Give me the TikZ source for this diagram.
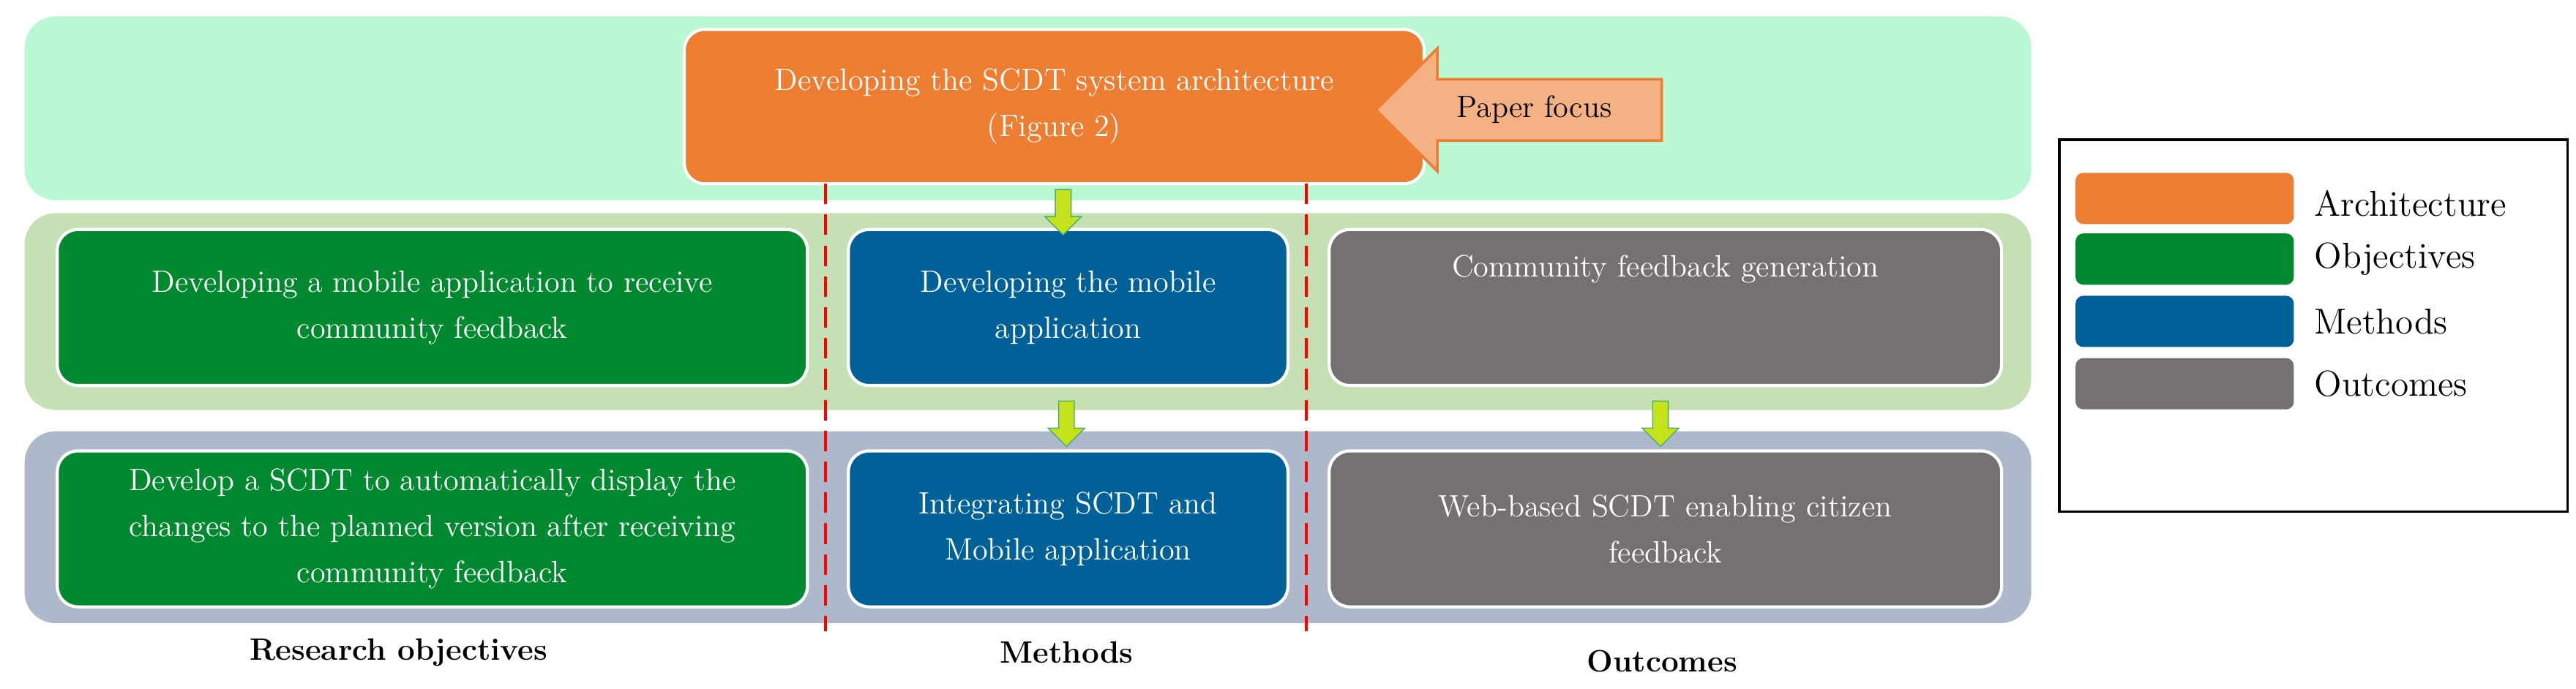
\documentclass[tikz,border=0pt]{standalone}
\usetikzlibrary{shapes.arrows}
\definecolor{bandtop}{HTML}{B9F8D3}
\definecolor{bandmid}{HTML}{C5E0B4}
\definecolor{bandbot}{HTML}{ADB9CA}
\definecolor{archi}{HTML}{ED7D31}
\definecolor{objgreen}{HTML}{00892F}
\definecolor{methblue}{HTML}{006199}
\definecolor{outgray}{HTML}{767171}
\definecolor{focus}{HTML}{F4B183}
\definecolor{lime}{HTML}{C5E31A}
\tikzstyle{every picture} = [x=0.0224cm, y=-0.0224cm, font=\fontsize{12}{18}\selectfont]
\tikzstyle{box} = [rectangle, rounded corners=8pt, draw=white, line width=1.2pt, text=white, align=center, minimum height=2.13cm]
\tikzstyle{band} = [rounded corners=12pt]
\tikzstyle{flow arrow} = [single arrow, shape border rotate=270, fill=lime, draw=objgreen!70, minimum height=0.62cm, minimum width=0.5cm, single arrow head extend=0.08cm, inner sep=1.5pt]
\tikzstyle{swatch} = [rectangle, rounded corners=3pt, minimum width=2.98cm, minimum height=0.7cm]
\begin{document}
\begin{tikzpicture}
            \useasboundingbox (0,0) rectangle (1570,420);
            \fill[band, bandtop] (15,10) rectangle (1238,122);
            \fill[band, bandmid] (15,130) rectangle (1238,250);
            \fill[band, bandbot] (15,263) rectangle (1238,380);

            \node (arch) [box, fill=archi, minimum width=10.10cm, minimum height=2.11cm] at (642.5,65) {Developing the SCDT system architecture\\(Figure 2)};
            \node (focus) [single arrow, shape border rotate=180, fill=focus, draw=archi, line width=1pt, minimum height=3.9cm, single arrow head extend=0.42cm, inner ysep=6pt] at (935,67) {Paper focus};

            \node (obj 1) [box, fill=objgreen, minimum width=10.24cm] at (263.5,187.5) {Developing a mobile application to receive\\community feedback};
            \node (meth 1) [box, fill=methblue, minimum width=6.00cm] at (651,187.5) {Developing the mobile\\application};
            \node (out 1) [box, fill=outgray, minimum width=9.18cm] at (1015,187.5) {Community feedback generation\\[14pt]};
            \node (obj 2) [box, fill=objgreen, minimum width=10.24cm] at (263.5,322.5) {Develop a SCDT to automatically display the\\changes to the planned version after receiving\\community feedback};
            \node (meth 2) [box, fill=methblue, minimum width=6.00cm] at (651,322.5) {Integrating SCDT and\\Mobile application};
            \node (out 2) [box, fill=outgray, minimum width=9.18cm] at (1015,322.5) {Web-based SCDT enabling citizen\\feedback};

            \coordinate (cut a top) at (503,112);
            \coordinate (cut a bot) at (503,385);
            \coordinate (cut b top) at (796,112);
            \coordinate (cut b bot) at (796,385);
            \draw[red, line width=1.2pt, dash pattern=on 8pt off 4pt] (cut a top) -- (cut a bot);
            \draw[red, line width=1.2pt, dash pattern=on 8pt off 4pt] (cut b top) -- (cut b bot);

            \node (flow 1) [flow arrow] at (648,127) {};
            \node (flow 2) [flow arrow] at (650,256) {};
            \node (flow 3) [flow arrow] at (1012,256) {};

            \node (lab obj) [font=\fontsize{12}{14}\selectfont\bfseries] at (243,398) {Research objectives};
            \node (lab meth) [font=\fontsize{12}{14}\selectfont\bfseries] at (650,398) {Methods};
            \node (lab out) [font=\fontsize{12}{14}\selectfont\bfseries] at (1013,403) {Outcomes};

            \node (legend) [draw, line width=1pt, minimum width=6.94cm, minimum height=5.08cm] at (1410,198.5) {};
            \node (sw arch) [swatch, fill=archi] at (1331.5,121) {};
            \node (sw obj) [swatch, fill=objgreen] at (1331.5,158) {};
            \node (sw meth) [swatch, fill=methblue] at (1331.5,196) {};
            \node (sw out) [swatch, fill=outgray] at (1331.5,234) {};
            \node (tx arch) [anchor=west, font=\fontsize{14}{16}\selectfont] at (1405,124) {Architecture};
            \node (tx obj) [anchor=west, font=\fontsize{14}{16}\selectfont] at (1405,158) {Objectives};
            \node (tx meth) [anchor=west, font=\fontsize{14}{16}\selectfont] at (1405,196) {Methods};
            \node (tx out) [anchor=west, font=\fontsize{14}{16}\selectfont] at (1405,234) {Outcomes};
\end{tikzpicture}
\end{document}
